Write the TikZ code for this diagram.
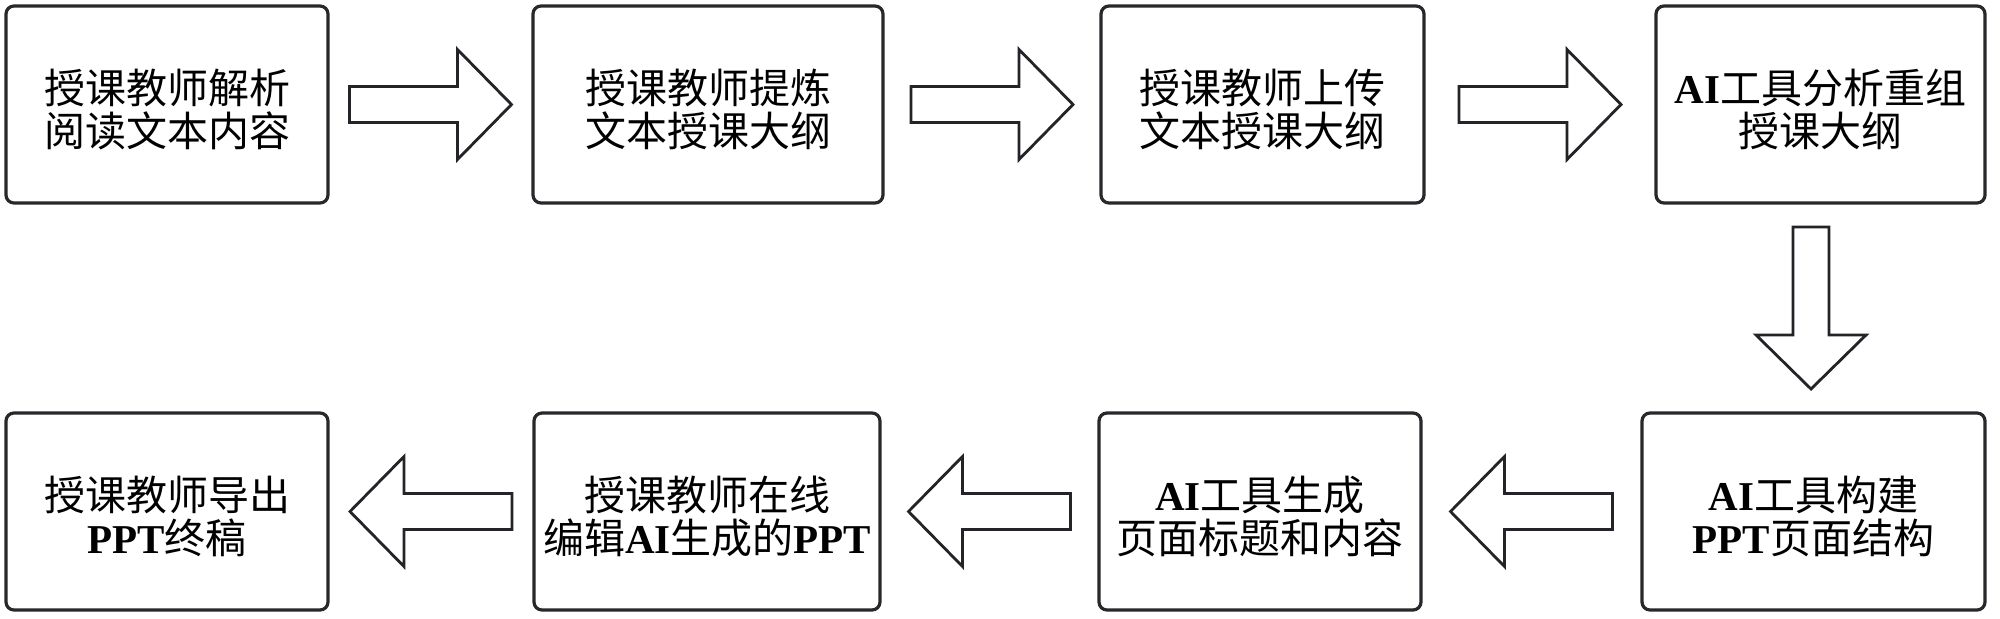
\documentclass[tikz,border=0pt]{standalone}
\usepackage{fontspec}
\setmainfont{Liberation Serif}
\newfontfamily\cjk{Noto Sans CJK SC}
\newcommand{\lt}[1]{{\rmfamily\bfseries #1}}
\usetikzlibrary{calc}
\definecolor{boxc}{RGB}{40,40,44}
\definecolor{arrc}{RGB}{35,35,40}
\tikzset{
  box/.style={draw=boxc, line width=1.6pt, rounded corners=4pt, fill=white,
    inner sep=0pt, minimum height=98.5pt},
  txt/.style={align=center, inner sep=0pt, yshift=-2.5pt,
    font=\cjk\fontsize{20.5pt}{21.5pt}\selectfont},
  arrowline/.style={draw=arrc, line width=1.4pt, line join=miter, fill=white},
  blockarrow/.pic={\draw[arrowline] (-81,-18) -- (27,-18) -- (27,-55) -- (81,0) -- (27,55) -- (27,18) -- (-81,18) -- cycle;}
}
\begin{document}
\begin{tikzpicture}[x=0.5pt,y=-0.5pt]
\useasboundingbox[fill=white] (0,0) rectangle (2000,618);
\node[box, minimum width=161pt] (b1) at (167,104.5) {};
\node[box, minimum width=175pt] (b2) at (708,104.5) {};
\node[box, minimum width=161.5pt] (b3) at (1262.5,104.5) {};
\node[box, minimum width=164.5pt] (b4) at (1820.5,104.5) {};
\node[box, minimum width=171.5pt] (b5) at (1813.5,511.5) {};
\node[box, minimum width=161pt] (b6) at (1260,511.5) {};
\node[box, minimum width=173pt] (b7) at (707,511.5) {};
\node[box, minimum width=161pt] (b8) at (167,511.5) {};
\node[txt] (t1) at (b1.center) {授课教师解析\\阅读文本内容};
\node[txt] (t2) at (b2.center) {授课教师提炼\\文本授课大纲};
\node[txt] (t3) at (b3.center) {授课教师上传\\文本授课大纲};
\node[txt] (t4) at (b4.center) {\lt{AI}工具分析重组\\授课大纲};
\node[txt] (t5) at (b5.center) {\lt{AI}工具构建\\\lt{PPT}页面结构};
\node[txt] (t6) at (b6.center) {\lt{AI}工具生成\\页面标题和内容};
\node[txt] (t7) at (b7.center) {授课教师在线\\编辑\lt{AI}生成的\lt{PPT}};
\node[txt] (t8) at (b8.center) {授课教师导出\\\lt{PPT}终稿};
\path pic at ($(b1.east)!0.5!(b2.west)$) {blockarrow};
\path pic at ($(b2.east)!0.5!(b3.west)$) {blockarrow};
\path pic at ($(b3.east)!0.5!(b4.west)$) {blockarrow};
\coordinate (dmid) at ($(b4.south)!0.5!(b5.north)$);
\path pic[rotate=-90] at (1811,0 |- dmid) {blockarrow};
\path pic[rotate=180] at ($(b5.west)!0.5!(b6.east)$) {blockarrow};
\path pic[rotate=180] at ($(b6.west)!0.5!(b7.east)$) {blockarrow};
\path pic[rotate=180] at ($(b7.west)!0.5!(b8.east)$) {blockarrow};
\end{tikzpicture}
\end{document}
